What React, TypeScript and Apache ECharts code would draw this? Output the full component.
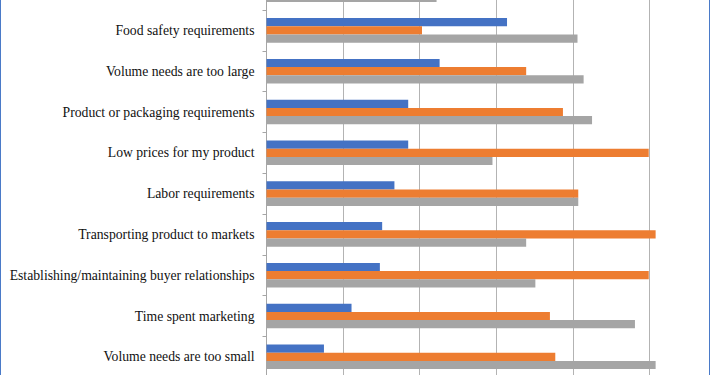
import React, { useEffect, useRef } from "react";
import * as echarts from "echarts";

// Categories listed bottom-to-top (ECharts category y axis order)
const categories = [
  "Volume needs are too small",
  "Time spent marketing",
  "Establishing/maintaining buyer relationships",
  "Transporting product to markets",
  "Labor requirements",
  "Low prices for my product",
  "Product or packaging requirements",
  "Volume needs are too large",
  "Food safety requirements",
  "",
];

const blueValues = [7.5, 11.1, 14.8, 15.1, 16.7, 18.5, 18.5, 22.6, 31.4, 24];
const orangeValues = [37.7, 37.0, 49.9, 50.8, 40.7, 49.9, 38.7, 33.9, 20.3, 30];
const grayValues = [50.8, 48.1, 35.1, 33.9, 40.7, 29.5, 42.5, 41.4, 40.6, 22.2];

const seriesNames = ["Series 1", "Series 2", "Series 3"];
const colors = ["#4472C4", "#ED7D31", "#A5A5A5"];

export default function App() {
  const ref = useRef<HTMLDivElement>(null);
  useEffect(() => {
    if (!ref.current) return;
    const chart = echarts.init(ref.current, null, { renderer: "svg" });
    const mk = (i: number, data: number[]) => ({
      name: seriesNames[i],
      type: "bar",
      data,
      barWidth: 8.2,
      barGap: "0%",
      itemStyle: { color: colors[i] },
    });
    chart.setOption({
      animation: false,
      grid: { left: 266.5, top: 9.2, width: 459.6, height: 408 },
      xAxis: {
        type: "value",
        min: 0,
        max: 60,
        interval: 10,
        axisLabel: { show: false },
        axisLine: { show: false },
        axisTick: { show: false },
        splitLine: { show: true, lineStyle: { color: "#b3b3b3", width: 1 } },
      },
      yAxis: {
        type: "category",
        data: categories,
        axisLine: { show: true, lineStyle: { color: "#a6a6a6" } },
        axisTick: { show: true, length: 4, lineStyle: { color: "#a6a6a6" } },
        axisLabel: {
          margin: 12,
          fontFamily: "'Liberation Serif', 'Times New Roman', serif",
          fontSize: 13.7,
          color: "#111111",
        },
      },
      series: [mk(0, blueValues), mk(1, orangeValues), mk(2, grayValues)],
    });
    return () => chart.dispose();
  }, []);
  return (
    <div
      style={{
        position: "fixed",
        left: 0,
        top: 0,
        width: 710,
        height: 375,
        overflow: "hidden",
        boxSizing: "border-box",
        borderLeft: "1px solid #4a7ac8",
        borderRight: "1px solid #4a7ac8",
        background: "#fff",
      }}
    >
      <div
        ref={ref}
        style={{ position: "absolute", left: -1, top: -40, width: 800, height: 460 }}
      />
    </div>
  );
}
